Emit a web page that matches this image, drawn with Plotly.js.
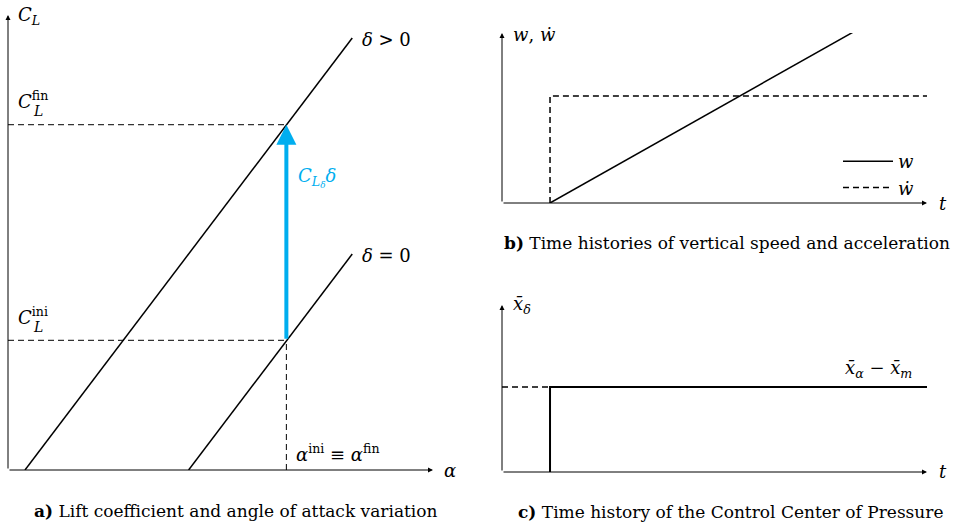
<!DOCTYPE html>
<html>
<head>
<meta charset="utf-8">
<script src="https://cdn.plot.ly/plotly-3.0.1.min.js"></script>
<style>html,body{margin:0;padding:0;background:#fff;}</style>
</head>
<body>
<div id="chart" style="width:955px;height:526px;"></div>
<script>
// ---- Panel a: lift curve shifted by the control deflection ----
const alphaShifted = [0.4, 8.1];     // delta > 0
const clShifted    = [0, 10.16];
const alphaBase    = [4.25, 8.1];    // delta = 0
const clBase       = [0, 5.08];
const alphaIni     = 6.55;           // alpha_ini = alpha_fin
const clIni        = 3.05;
const clFin        = 8.12;

// ---- Panel b: vertical speed and acceleration ----
const tW        = [1.13, 8.26];
const wVals     = [0, 4.02];
const tWdot     = [1.13, 1.13, 10.02];
const wdotVals  = [0, 2.52, 2.52];

// ---- Panel c: control centre of pressure ----
const tPre   = [0, 1.13];
const xPre   = [2.0, 2.0];
const tPost  = [1.13, 1.13, 10.02];
const xPost  = [0, 2.0, 2.0];

const FONT = 'DejaVu Serif';
const FS = 18;        // math labels
const CAP = 17;       // panel captions
const W = 955, H = 526;
const BLACK = '#000';
const CYAN = '#00aeef';
const DASH = '6px,4px';

function line(x, y, xa, ya, opts) {
  return Object.assign({
    type: 'scatter', mode: 'lines', x: x, y: y, xaxis: xa, yaxis: ya,
    line: {color: BLACK, width: 1.5}, showlegend: false, hoverinfo: 'skip', cliponaxis: false
  }, opts || {});
}

const traces = [
  // panel a
  line(alphaShifted, clShifted, 'x', 'y'),
  line(alphaBase, clBase, 'x', 'y'),
  line([0, alphaIni], [clFin, clFin], 'x', 'y', {line: {color: BLACK, width: 1, dash: DASH}}),
  line([0, alphaIni], [clIni, clIni], 'x', 'y', {line: {color: BLACK, width: 1, dash: DASH}}),
  line([alphaIni, alphaIni], [0, clIni], 'x', 'y', {line: {color: BLACK, width: 1, dash: DASH}}),
  // panel b
  line(tW, wVals, 'x2', 'y2', {name: '<i>w</i>', showlegend: true}),
  line(tWdot, wdotVals, 'x2', 'y2', {name: '<i>ẇ</i>', showlegend: true, line: {color: BLACK, width: 1.5, dash: DASH}}),
  // panel c
  line(tPre, xPre, 'x3', 'y3', {line: {color: BLACK, width: 1.5, dash: DASH}}),
  line(tPost, xPost, 'x3', 'y3', {line: {color: BLACK, width: 2}})
];

function axis(domain, range) {
  return {domain: domain, range: range, showgrid: false, zeroline: false, showline: false,
          showticklabels: false, ticks: '', fixedrange: true};
}

function label(text, x, y, extra) {
  return Object.assign({
    xref: 'paper', yref: 'paper', x: x / W, y: 1 - y / H, text: text, showarrow: false,
    xanchor: 'left', yanchor: 'middle', font: {family: FONT, size: FS, color: BLACK}
  }, extra || {});
}

function caption(text, x, y) {
  return label(text, x, y, {xanchor: 'center', font: {family: FONT, size: CAP, color: BLACK}});
}

function axisArrow(xa, ya, x, y, x0, y0) {
  return {xref: xa, yref: ya, axref: xa, ayref: ya, x: x, y: y, ax: x0, ay: y0, text: '',
          showarrow: true, arrowhead: 2, arrowsize: 1, arrowwidth: 1, arrowcolor: BLACK, standoff: 0};
}

const annotations = [
  // axes
  axisArrow('x', 'y', 10, 0, 0, 0),
  axisArrow('x', 'y', 0, 10.7, 0, 0),
  axisArrow('x2', 'y2', 10, 0, 0, 0),
  axisArrow('x2', 'y2', 0, 4, 0, 0),
  axisArrow('x3', 'y3', 10, 0, 0, 0),
  axisArrow('x3', 'y3', 0, 3.93, 0, 0),
  // lift increment arrow
  {xref: 'x', yref: 'y', axref: 'x', ayref: 'y', x: alphaIni, y: clFin, ax: alphaIni, ay: clIni,
   text: '', showarrow: true, arrowhead: 2, arrowsize: 1, arrowwidth: 4, arrowcolor: CYAN, standoff: 0},

  // panel a labels
  label('<i>C</i><sub><i>L</i></sub>', 16, 16),
  label('<i>C</i><sup>fin</sup>', 16, 100),
  label('<i>L</i>', 31, 111, {font: {family: FONT, size: 14, color: BLACK}}),
  label('<i>C</i><sup>ini</sup>', 16, 316),
  label('<i>L</i>', 31, 327, {font: {family: FONT, size: 14, color: BLACK}}),
  label('<i>δ</i> > 0', 360, 39),
  label('<i>δ</i> = 0', 360, 256),
  label('<i>α</i><sup>ini</sup> ≡ <i>α</i><sup>fin</sup>', 294, 453),
  label('<i>α</i>', 442, 470),
  label('<i>C</i><sub><i>L</i><sub><i>δ</i></sub></sub><i>δ</i>', 296, 177, {font: {family: FONT, size: FS, color: CYAN}}),
  caption('<b>a)</b> Lift coefficient and angle of attack variation', 236, 511),

  // panel b labels
  label('<i>w</i>, <i>ẇ</i>', 511, 34),
  label('<i>t</i>', 937, 203),
  caption('<b>b)</b> Time histories of vertical speed and acceleration', 727, 243),

  // panel c labels
  label('<i>x̄</i><sub><i>δ</i></sub>', 511, 305),
  label('<i>x̄</i><sub><i>α</i></sub> − <i>x̄</i><sub><i>m</i></sub>', 843, 369),
  label('<i>t</i>', 937, 471),
  caption('<b>c)</b> Time history of the Control Center of Pressure', 730, 512)
];

const layout = {
  width: W, height: H,
  margin: {l: 0, r: 0, t: 0, b: 0},
  paper_bgcolor: '#fff', plot_bgcolor: 'rgba(0,0,0,0)',
  xaxis:  axis([8 / W, 433 / W], [0, 10]),
  yaxis:  axis([1 - 470 / H, 1 - 15 / H], [0, 10.7]),
  xaxis2: axis([502 / W, 927 / W], [0, 10]),
  yaxis2: axis([1 - 203 / H, 1 - 33 / H], [0, 4]),
  xaxis3: axis([502 / W, 927 / W], [0, 10]),
  yaxis3: axis([1 - 472 / H, 1 - 305 / H], [0, 3.93]),
  showlegend: true,
  legend: {x: 838 / W, y: 1 - 143 / H, xanchor: 'left', yanchor: 'top', bgcolor: 'rgba(0,0,0,0)',
           font: {family: FONT, size: FS, color: BLACK}, tracegroupgap: 0, itemwidth: 50},
  annotations: annotations,
  font: {family: FONT, color: BLACK}
};

Plotly.newPlot('chart', traces, layout, {staticPlot: true, displayModeBar: false});
</script>
</body>
</html>
